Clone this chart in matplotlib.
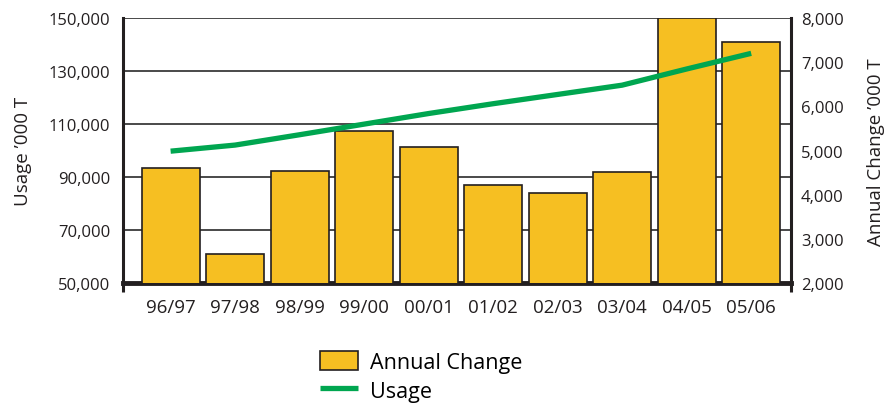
import matplotlib as mpl
import matplotlib.pyplot as plt
import matplotlib.ticker as mticker
import numpy as np

mpl.rcParams["font.family"] = ["Open Sans", "DejaVu Sans"]

BAR_COLOR = "#F6BF22"
LINE_COLOR = "#00A650"
DARK = "#231F20"

years = ["96/97", "97/98", "98/99", "99/00", "00/01", "01/02", "02/03", "03/04", "04/05", "05/06"]
annual_change = [4600, 2650, 4550, 5450, 5090, 4230, 4045, 4520, 8000, 7450]
usage = [99800, 102100, 106000, 110000, 114000, 117700, 121200, 124700, 130800, 136700]

left_ticks = [50000, 70000, 90000, 110000, 130000, 150000]
right_ticks = [2000, 3000, 4000, 5000, 6000, 7000, 8000]

fig = plt.figure(figsize=(8.84, 4.06), dpi=100)
ax = fig.add_axes([0.139, 0.300, 0.756, 0.653])
ax2 = ax.twinx()
ax3 = ax.twinx()

x = np.arange(len(years))

# left scale: grid + ticks
ax.set_ylim(50000, 150000)
ax.set_yticks(left_ticks)
ax.yaxis.set_major_formatter(mticker.StrMethodFormatter("{x:,.0f}"))
ax.grid(axis="y", color="#3a3a3a", lw=1.3)
ax.set_axisbelow(True)
ax.set_xlim(-0.74, 9.62)
ax.set_xticks(x)
ax.set_xticklabels(years)
ax.tick_params(axis="both", length=0, colors=DARK)
ax.tick_params(axis="x", pad=11, labelsize=13.5)
ax.tick_params(axis="y", pad=9, labelsize=12)
ax.set_ylabel("Usage \u2019000 T", fontsize=13.5, color=DARK, labelpad=12)

# right scale: bars
bars = ax2.bar(x, annual_change, width=0.9, color=BAR_COLOR, edgecolor=DARK, lw=1.2,
               label="Annual Change")
ax2.set_ylim(2000, 8000)
ax2.set_yticks(right_ticks)
ax2.yaxis.set_major_formatter(mticker.StrMethodFormatter("{x:,.0f}"))
ax2.tick_params(axis="y", length=0, labelsize=12, colors=DARK, pad=7)
ax2.set_ylabel("Annual Change \u2019000 T", fontsize=13.5, color=DARK, labelpad=17)

# usage line on the left scale, drawn above the bars
ax3.set_ylim(ax.get_ylim())
line, = ax3.plot(x, usage, color=LINE_COLOR, lw=3.8, solid_capstyle="butt", label="Usage")
ax3.set_yticks([])

for a in (ax, ax2, ax3):
    for s in a.spines.values():
        s.set_visible(False)
ax.spines["left"].set_visible(True)
ax.spines["left"].set_linewidth(2.2)
ax.spines["left"].set_color(DARK)
ax.spines["bottom"].set_visible(True)
ax.spines["bottom"].set_linewidth(3.5)
ax.spines["bottom"].set_color(DARK)
ax2.spines["right"].set_visible(True)
ax2.spines["right"].set_linewidth(2.2)
ax2.spines["right"].set_color(DARK)

# spines run a little below the baseline
for xpos in (0, 1):
    ax3.plot([xpos, xpos], [0, -0.035], transform=ax3.transAxes, color=DARK,
             lw=2.2, clip_on=False, solid_capstyle="butt")

fig.legend(handles=[bars, line], loc="upper left", bbox_to_anchor=(0.362, 0.132),
           frameon=False, fontsize=15.5, handlelength=1.75, handleheight=0.95,
           handletextpad=0.55, labelspacing=0.32, borderpad=0, borderaxespad=0)

fig.savefig("out.png", dpi=100)
